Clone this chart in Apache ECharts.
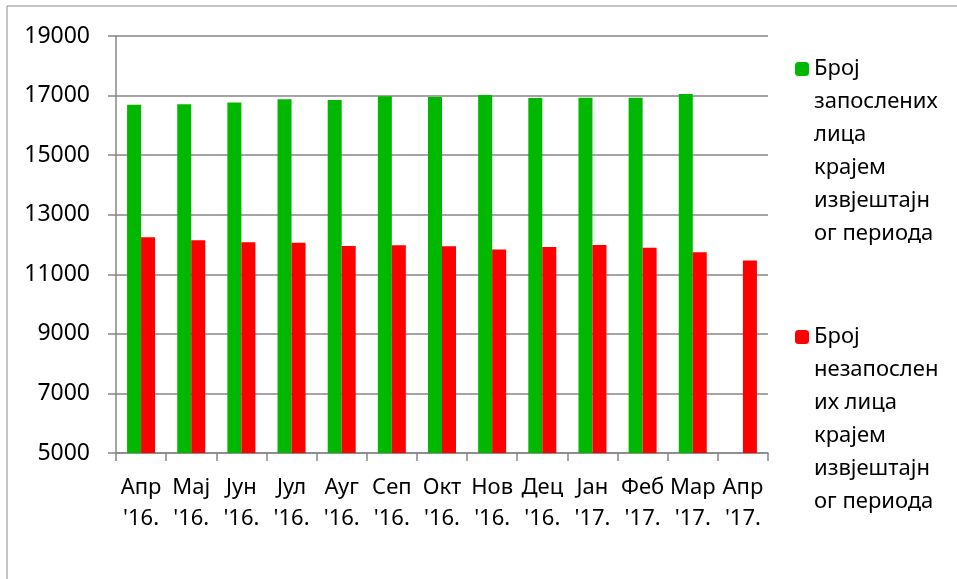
<!DOCTYPE html>
<html>
<head>
<meta charset="utf-8">
<script src="https://cdn.jsdelivr.net/npm/echarts@6/dist/echarts.min.js"></script>
<style>
  html, body { margin: 0; padding: 0; background: #fff; }
  #chart { width: 957px; height: 579px; }
</style>
</head>
<body>
<div id="chart"></div>
<script>
// months, two rows per label
const months = ['Апр', 'Мај', 'Јун', 'Јул', 'Ауг', 'Сеп', 'Окт', 'Нов', 'Дец', 'Јан', 'Феб', 'Мар', 'Апр']
const years = ["'16.", "'16.", "'16.", "'16.", "'16.", "'16.", "'16.", "'16.", "'16.", "'17.", "'17.", "'17.", "'17."]

const employed = [16690, 16710, 16765, 16880, 16855, 16980, 16955, 17015, 16920, 16925, 16925, 17055, null]
const unemployed = [12245, 12145, 12075, 12060, 11950, 11975, 11940, 11835, 11920, 11985, 11895, 11740, 11460]

const employedName = 'Број\nзапослених\nлица\nкрајем\nизвјештајн\nог периода'
const unemployedName = 'Број\nнезапослен\nих лица\nкрајем\nизвјештајн\nог периода'

const categories = months.map((m, i) => m + '\n' + years[i])

const FONT = 'Noto Sans'
const LH = 33

const chart = echarts.init(document.getElementById('chart'))

// 5 empty lines in front, so the centred block puts the icon on the first real line
function legendOf(name, top) {
  return {
    data: [name],
    left: 795,
    top: top,
    padding: 0,
    itemWidth: 14,
    itemHeight: 14,
    selectedMode: false,
    formatter: n => '\n\n\n\n\n' + n,
    textStyle: {
      fontFamily: FONT,
      fontSize: 22,
      color: '#000',
      lineHeight: LH,
      backgroundColor: 'rgba(0,0,0,0)'
    }
  }
}

const option = {
  animation: false,
  graphic: [{
    type: 'rect',
    shape: { x: 7, y: 6, width: 1000, height: 1000 },
    style: { fill: 'none', stroke: '#8c8c8c', lineWidth: 1 }
  }],
  grid: { left: 116, right: 189, top: 36, bottom: 126 },
  legend: [
    legendOf(employedName, 69 - LH * 5.5),
    legendOf(unemployedName, 337 - LH * 5.5)
  ],
  xAxis: {
    type: 'category',
    data: categories,
    axisLine: { lineStyle: { color: '#868686', width: 1.5 } },
    axisTick: { show: true, length: 8, lineStyle: { color: '#868686', width: 1.5 } },
    axisLabel: {
      interval: 0,
      margin: 19,
      fontFamily: FONT,
      fontSize: 22,
      lineHeight: 31,
      color: '#000'
    }
  },
  yAxis: {
    type: 'value',
    min: 5000,
    max: 19000,
    interval: 2000,
    axisLine: { show: true, lineStyle: { color: '#868686', width: 1.5 } },
    axisTick: { show: true, length: 8, lineStyle: { color: '#868686', width: 1.5 } },
    splitLine: { lineStyle: { color: '#868686', width: 1.5 } },
    axisLabel: {
      margin: 26,
      fontFamily: FONT,
      fontSize: 23,
      color: '#000',
      formatter: v => String(v)
    }
  },
  series: [
    {
      name: employedName,
      type: 'bar',
      data: employed,
      barWidth: 14,
      barGap: 0,
      itemStyle: { color: '#00b800' }
    },
    {
      name: unemployedName,
      type: 'bar',
      data: unemployed,
      barWidth: 14,
      barGap: 0,
      itemStyle: { color: '#ff0000' }
    }
  ]
}

chart.setOption(option)
</script>
</body>
</html>
